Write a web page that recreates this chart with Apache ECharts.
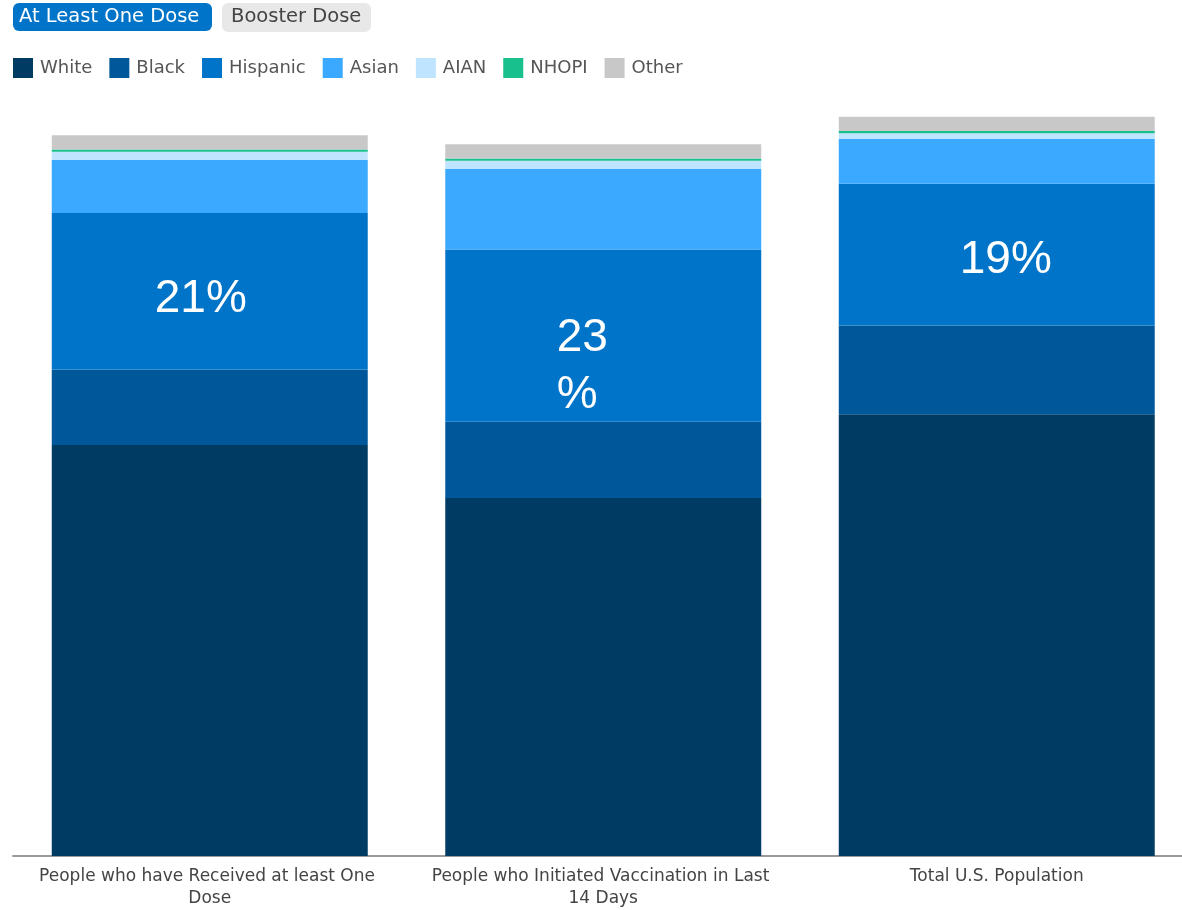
<!DOCTYPE html>
<html>
<head>
<meta charset="utf-8">
<script src="https://cdn.jsdelivr.net/npm/echarts@6/dist/echarts.min.js"></script>
<style>html,body{margin:0;padding:0;background:#fff;}#c{width:1182px;height:910px;}</style>
</head>
<body>
<div id="c"></div>
<script>
var categories = ['People who have Received at least One Dose', 'People who Initiated Vaccination in Last 14 Days', 'Total U.S. Population'];
var seriesNames = ['White', 'Black', 'Hispanic', 'Asian', 'AIAN', 'NHOPI', 'Other'];
var white    = [55.1, 48.0, 59.2];
var black    = [10.1, 10.2, 11.9];
var hispanic = [21.0, 23.1, 19.0];
var asian    = [7.1, 10.8, 6.0];
var aian     = [1.1, 1.1, 0.8];
var nhopi    = [0.3, 0.3, 0.3];
var other    = [1.9, 1.9, 1.9];
var hispanicLabels = ['21%', '23\n%', '19%'];
var buttonTexts = ['At Least One Dose', 'Booster Dose'];

var colors = ['#003b64', '#00589b', '#0074c8', '#3ba9ff', '#bee4ff', '#17c08c', '#c8c8c8'];
var values = [white, black, hispanic, asian, aian, nhopi, other];
var labelOffsets = [[-9, 8], [-46.5, 31], [9, 6]];
var FONT = 'DejaVu Sans';

var series = seriesNames.map(function (name, i) {
  var s = {
    name: name,
    type: 'bar',
    stack: 'total',
    barCategoryGap: '19.7%',
    itemStyle: { color: colors[i] },
    emphasis: { disabled: true },
    data: values[i].slice()
  };
  if (name === 'Hispanic') {
    s.data = values[i].map(function (v, j) {
      return {
        value: v,
        label: {
          show: true,
          position: 'inside',
          formatter: hispanicLabels[j],
          color: '#fff',
          fontFamily: 'Liberation Sans',
          fontSize: 46,
          lineHeight: 57,
          align: j === 1 ? 'left' : 'center',
          offset: labelOffsets[j]
        }
      };
    });
  }
  return s;
});

var chart = echarts.init(document.getElementById('c'), null, { renderer: 'canvas' });
chart.setOption({
  animation: false,
  backgroundColor: '#fff',
  color: colors,
  legend: {
    left: 13,
    top: 58,
    padding: 0,
    itemWidth: 20,
    itemHeight: 20,
    itemGap: 17,
    icon: 'rect',
    textStyle: { fontFamily: FONT, fontSize: 18, color: '#555', padding: [0, 0, 0, 2] },
    data: seriesNames
  },
  grid: { left: 13, width: 1180.5, top: 110, bottom: 54, containLabel: false, outerBoundsMode: 'none' },
  xAxis: {
    type: 'category',
    data: categories,
    axisLine: { lineStyle: { color: '#9a9a9a', width: 2 } },
    axisTick: { show: false },
    axisLabel: {
      interval: 0,
      margin: 10,
      color: '#444',
      fontFamily: FONT,
      fontSize: 17,
      lineHeight: 22,
      width: 355,
      overflow: 'break'
    }
  },
  yAxis: { type: 'value', min: 0, max: 100, show: false, splitLine: { show: false } },
  series: series,
  graphic: [
    { type: 'rect', left: 13, top: 3, shape: { width: 199, height: 28, r: 6 }, style: { fill: '#0074c8' } },
    { type: 'text', left: 19, top: 7, style: { text: buttonTexts[0], fill: '#fff', font: '19.5px "DejaVu Sans"' } },
    { type: 'rect', left: 222, top: 3, shape: { width: 149, height: 29, r: 6 }, style: { fill: '#e8e8e8' } },
    { type: 'text', left: 231, top: 7, style: { text: buttonTexts[1], fill: '#444', font: '19.5px "DejaVu Sans"' } }
  ]
});
</script>
</body>
</html>
